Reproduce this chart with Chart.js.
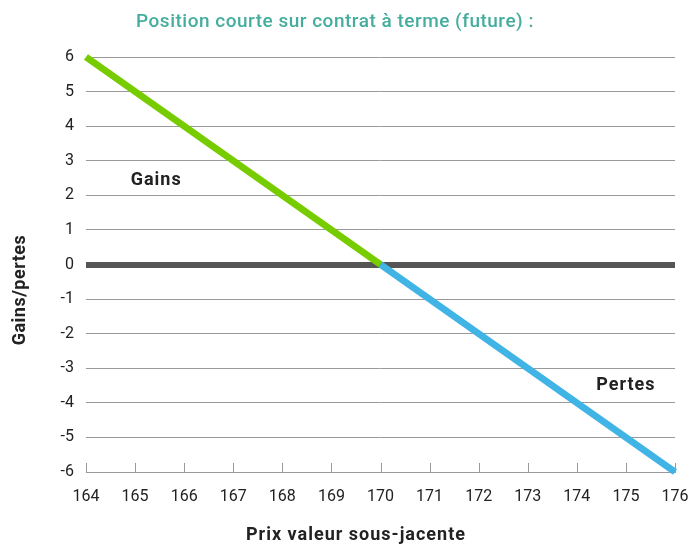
<!DOCTYPE html>
<html>
<head>
<meta charset="utf-8">
<script src="https://cdn.jsdelivr.net/npm/chart.js@4/dist/chart.umd.min.js"></script>
<style>
  html, body { margin: 0; padding: 0; background: #fff; }
  #wrap { width: 691px; height: 547px; }
</style>
</head>
<body>
<div id="wrap"><canvas id="c" width="691" height="547"></canvas></div>
<script>
// Profil de gain d'une position courte sur future
const titleText = 'Position courte sur contrat à terme (future) :';
const xTitle = 'Prix valeur sous-jacente';
const yTitle = 'Gains/pertes';
const gainsPrices = [164, 170];
const gainsValues = [6, 0];
const pertesPrices = [170, 176];
const pertesValues = [0, -6];
const labelsText = [
  { text: 'Gains', x: 165.43, y: 2.43 },
  { text: 'Pertes', x: 175.0, y: -3.5 },
];

const font = "'Roboto', 'Liberation Sans', sans-serif";

const toPoints = (xs, ys) => xs.map((x, i) => ({ x, y: ys[i] }));

new Chart(document.getElementById('c'), {
  type: 'line',
  data: {
    datasets: [{
      data: toPoints(gainsPrices, gainsValues),
      borderColor: '#77cc00',
      borderWidth: 7,
      pointRadius: 0,
      clip: false,
    }, {
      data: toPoints(pertesPrices, pertesValues),
      borderColor: '#40b4e5',
      borderWidth: 7,
      pointRadius: 0,
      clip: false,
    }]
  },
  options: {
    responsive: false,
    animation: false,
    layout: { padding: { top: 57, right: 16, left: 0, bottom: 0 } },
    plugins: {
      legend: { display: false },
      tooltip: { enabled: false },
    },
    scales: {
      x: {
        type: 'linear',
        min: 164,
        max: 176,
        ticks: { stepSize: 1, color: '#222', font: { family: font, size: 16 }, padding: 15 },
        grid: { drawOnChartArea: false, drawTicks: false },
        border: { display: true, color: '#999', width: 1 },
        afterFit: (s) => { s.height = 75; s.paddingLeft = 0; s.paddingRight = 0; },
      },
      y: {
        min: -6,
        max: 6,
        ticks: { stepSize: 1, color: '#222', font: { family: font, size: 16 }, padding: 12 },
        grid: {
          drawTicks: false,
          color: (ctx) => ctx.tick && ctx.tick.value === 0 ? '#555' : '#999',
          lineWidth: (ctx) => ctx.tick && ctx.tick.value === 0 ? 6 : 1,
        },
        border: { display: false },
        afterFit: (s) => { s.width = 86; s.paddingTop = 0; s.paddingBottom = 0; },
      }
    }
  },
  plugins: [{
    id: 'extras',
    beforeDatasetsDraw: (chart) => {
      // petits traits de graduation vers l'intérieur sur l'axe x
      const { ctx, scales: { x }, chartArea } = chart;
      ctx.save();
      ctx.strokeStyle = '#999';
      ctx.lineWidth = 1;
      x.ticks.forEach((t) => {
        const px = Math.round(x.getPixelForValue(t.value)) + 0.5;
        ctx.beginPath();
        ctx.moveTo(px, chartArea.bottom);
        ctx.lineTo(px, chartArea.bottom - 9);
        ctx.stroke();
      });
      ctx.restore();
    },
    afterDraw: (chart) => {
      const { ctx, scales: { x, y } } = chart;
      ctx.save();
      ctx.textAlign = 'center';
      ctx.textBaseline = 'middle';

      ctx.fillStyle = '#45ad9d';
      ctx.font = `500 19px ${font}`;
      ctx.letterSpacing = '0.5px';
      ctx.fillText(titleText, 335, 22);

      ctx.fillStyle = '#222';
      ctx.font = `bold 18px ${font}`;
      ctx.letterSpacing = '1px';
      labelsText.forEach((l) => {
        ctx.fillText(l.text, x.getPixelForValue(l.x), y.getPixelForValue(l.y));
      });
      ctx.fillText(xTitle, 356, 535);

      ctx.letterSpacing = '0.5px';
      ctx.translate(20, 290);
      ctx.rotate(-Math.PI / 2);
      ctx.fillText(yTitle, 0, 0);
      ctx.restore();
    }
  }]
});
</script>
</body>
</html>
